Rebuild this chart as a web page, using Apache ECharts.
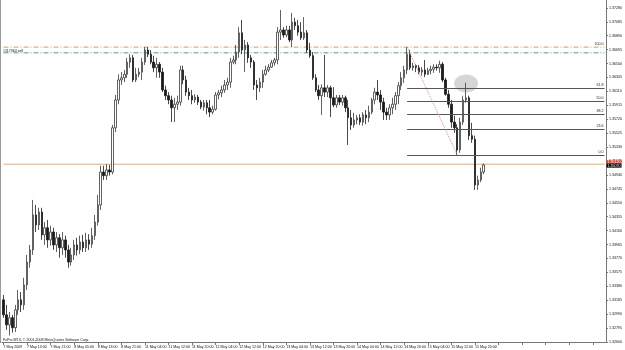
<!DOCTYPE html>
<html>
<head>
<meta charset="utf-8">
<script src="https://cdn.jsdelivr.net/npm/echarts@6/dist/echarts.min.js"></script>
<style>
  html, body { margin: 0; padding: 0; background: #fff; }
  #chart { width: 625px; height: 350px; }
</style>
</head>
<body>
<div id="chart"></div>
<script>
// EURUSD H1, 7 May - 15 May 2009
const opens = [
  1.3319,1.3298,1.3284,1.3294,1.3280,1.3305,1.3319,1.3312,1.3340,1.3372,
  1.3389,1.3438,1.3424,1.3442,1.3410,1.3420,1.3403,1.3414,1.3396,1.3406,
  1.3392,1.3403,1.3389,1.3372,1.3382,1.3396,1.3389,1.3400,1.3392,1.3403,
  1.3397,1.3409,1.3428,1.3452,1.3498,1.3493,1.3501,1.3498,1.3560,1.3599,
  1.3627,1.3630,1.3635,1.3652,1.3658,1.3627,1.3635,1.3638,1.3652,1.3669,
  1.3663,1.3652,1.3644,1.3649,1.3638,1.3613,1.3605,1.3599,1.3588,1.3593,
  1.3596,1.3641,1.3627,1.3610,1.3605,1.3599,1.3603,1.3596,1.3589,1.3595,
  1.3588,1.3582,1.3586,1.3606,1.3609,1.3613,1.3620,1.3624,1.3652,1.3655,
  1.3666,1.3693,1.3669,1.3676,1.3658,1.3652,1.3620,1.3616,1.3624,1.3635,
  1.3641,1.3645,1.3651,1.3655,1.3694,1.3697,1.3690,1.3697,1.3683,1.3708,
  1.3703,1.3694,1.3686,1.3693,1.3669,1.3661,1.3630,1.3613,1.3605,1.3616,
  1.3610,1.3616,1.3602,1.3592,1.3602,1.3596,1.3602,1.3588,1.3574,1.3564,
  1.3571,1.3574,1.3568,1.3578,1.3574,1.3582,1.3599,1.3610,1.3606,1.3596,
  1.3582,1.3578,1.3588,1.3593,1.3605,1.3619,1.3630,1.3641,1.3663,1.3644,
  1.3647,1.3644,1.3638,1.3641,1.3635,1.3640,1.3642,1.3645,1.3644,1.3649,
  1.3627,1.3607,1.3593,1.3568,1.3560,1.3529,1.3568,1.3599,1.3602,1.3549,
  1.3544,1.3480,1.3487,1.3498
]
const closes = [
  1.3298,1.3284,1.3294,1.3280,1.3305,1.3319,1.3312,1.3340,1.3372,1.3389,
  1.3438,1.3424,1.3442,1.3410,1.3420,1.3403,1.3414,1.3396,1.3406,1.3392,
  1.3403,1.3389,1.3372,1.3382,1.3396,1.3389,1.3400,1.3392,1.3403,1.3397,
  1.3409,1.3428,1.3452,1.3498,1.3493,1.3501,1.3498,1.3560,1.3599,1.3627,
  1.3630,1.3635,1.3652,1.3658,1.3627,1.3635,1.3638,1.3652,1.3669,1.3663,
  1.3652,1.3644,1.3649,1.3638,1.3613,1.3605,1.3599,1.3588,1.3593,1.3596,
  1.3641,1.3627,1.3610,1.3605,1.3599,1.3603,1.3596,1.3589,1.3595,1.3588,
  1.3582,1.3586,1.3606,1.3609,1.3613,1.3620,1.3624,1.3652,1.3655,1.3666,
  1.3693,1.3669,1.3676,1.3658,1.3652,1.3620,1.3616,1.3624,1.3635,1.3641,
  1.3645,1.3651,1.3655,1.3694,1.3697,1.3690,1.3697,1.3683,1.3708,1.3703,
  1.3694,1.3686,1.3693,1.3669,1.3661,1.3630,1.3613,1.3605,1.3616,1.3610,
  1.3616,1.3602,1.3592,1.3602,1.3596,1.3602,1.3588,1.3574,1.3564,1.3571,
  1.3574,1.3568,1.3578,1.3574,1.3582,1.3599,1.3610,1.3606,1.3596,1.3582,
  1.3578,1.3588,1.3593,1.3605,1.3619,1.3630,1.3641,1.3663,1.3644,1.3647,
  1.3644,1.3638,1.3641,1.3635,1.3640,1.3642,1.3645,1.3644,1.3649,1.3627,
  1.3607,1.3593,1.3568,1.3560,1.3529,1.3568,1.3599,1.3602,1.3549,1.3544,
  1.3480,1.3487,1.3498,1.3508
]
const highs = [
  1.3326,1.3312,1.3302,1.3298,1.3312,1.3333,1.3330,1.3350,1.3382,1.3396,
  1.3459,1.3452,1.3448,1.3448,1.3428,1.3431,1.3423,1.3420,1.3414,1.3411,
  1.3414,1.3409,1.3396,1.3392,1.3403,1.3406,1.3409,1.3410,1.3413,1.3411,
  1.3420,1.3438,1.3466,1.3507,1.3507,1.3509,1.3508,1.3564,1.3606,1.3635,
  1.3638,1.3641,1.3658,1.3663,1.3662,1.3644,1.3644,1.3658,1.3673,1.3673,
  1.3669,1.3661,1.3658,1.3652,1.3644,1.3619,1.3610,1.3605,1.3602,1.3605,
  1.3647,1.3647,1.3633,1.3616,1.3613,1.3607,1.3606,1.3599,1.3599,1.3599,
  1.3599,1.3591,1.3610,1.3613,1.3619,1.3627,1.3630,1.3658,1.3661,1.3676,
  1.3701,1.3711,1.3683,1.3680,1.3662,1.3655,1.3627,1.3630,1.3641,1.3647,
  1.3649,1.3655,1.3658,1.3701,1.3725,1.3701,1.3703,1.3703,1.3721,1.3714,
  1.3711,1.3708,1.3715,1.3697,1.3679,1.3666,1.3635,1.3620,1.3621,1.3662,
  1.3620,1.3619,1.3617,1.3606,1.3606,1.3606,1.3605,1.3599,1.3585,1.3581,
  1.3578,1.3579,1.3582,1.3585,1.3591,1.3602,1.3616,1.3627,1.3613,1.3602,
  1.3588,1.3593,1.3602,1.3610,1.3624,1.3638,1.3647,1.3673,1.3669,1.3651,
  1.3649,1.3648,1.3645,1.3655,1.3644,1.3647,1.3649,1.3649,1.3654,1.3652,
  1.3630,1.3613,1.3599,1.3577,1.3565,1.3574,1.3605,1.3623,1.3605,1.3567,
  1.3549,1.3493,1.3504,1.3510
]
const lows = [
  1.3294,1.3277,1.3269,1.3273,1.3274,1.3298,1.3302,1.3305,1.3333,1.3364,
  1.3382,1.3414,1.3417,1.3403,1.3396,1.3392,1.3395,1.3389,1.3386,1.3378,
  1.3382,1.3378,1.3364,1.3367,1.3375,1.3381,1.3383,1.3386,1.3386,1.3389,
  1.3392,1.3403,1.3423,1.3445,1.3487,1.3487,1.3493,1.3495,1.3554,1.3593,
  1.3620,1.3624,1.3630,1.3644,1.3624,1.3624,1.3631,1.3627,1.3648,1.3659,
  1.3649,1.3638,1.3630,1.3630,1.3610,1.3599,1.3593,1.3568,1.3568,1.3585,
  1.3591,1.3621,1.3605,1.3599,1.3593,1.3595,1.3592,1.3586,1.3584,1.3579,
  1.3575,1.3579,1.3584,1.3600,1.3603,1.3609,1.3613,1.3616,1.3649,1.3649,
  1.3658,1.3663,1.3638,1.3651,1.3644,1.3613,1.3599,1.3610,1.3616,1.3633,
  1.3638,1.3644,1.3647,1.3649,1.3683,1.3686,1.3687,1.3680,1.3673,1.3697,
  1.3689,1.3683,1.3683,1.3665,1.3658,1.3627,1.3610,1.3599,1.3578,1.3603,
  1.3603,1.3575,1.3589,1.3588,1.3592,1.3591,1.3582,1.3536,1.3557,1.3560,
  1.3565,1.3564,1.3563,1.3565,1.3568,1.3579,1.3593,1.3599,1.3585,1.3571,
  1.3571,1.3571,1.3579,1.3585,1.3593,1.3613,1.3623,1.3635,1.3641,1.3640,
  1.3638,1.3635,1.3633,1.3631,1.3634,1.3635,1.3637,1.3640,1.3637,1.3624,
  1.3605,1.3588,1.3560,1.3553,1.3522,1.3525,1.3564,1.3595,1.3543,1.3539,
  1.3473,1.3473,1.3484,1.3495
]

// one label every 8 bars
const xTickLabels = [
  '7 May 2009', '7 May 13:00', '7 May 21:00', '8 May 05:00', '8 May 13:00', '8 May 21:00',
  '11 May 04:00', '11 May 12:00', '11 May 20:00', '12 May 04:00', '12 May 12:00', '12 May 20:00',
  '13 May 04:00', '13 May 12:00', '13 May 20:00', '14 May 04:00', '14 May 12:00', '14 May 20:00',
  '15 May 04:00', '15 May 12:00', '15 May 20:00'
]
const yMin = 1.3260
const yMax = 1.3739
const yStep = 0.00195

// fibo retracement anchors (bar index, price)
const fibLevels = [100.0, 61.8, 50.0, 38.2, 23.6, 0.0]
const fibFrom = [137, 1.3673]
const fibTo = [154, 1.3522]

const sellPrice = 1.3673   // #117364 sell
const stopPrice = 1.3665
const bidLinePrice = 1.3509
const bidPrice = 1.35070
const askPrice = 1.35120
const markBar = 157        // grey ellipse around the retest
const markPrice = 1.3622

const barCount = 205       // chart is shifted, empty space on the right
const labelEvery = 8
const fontFam = 'Liberation Sans, Arial, sans-serif'

const categories = []
for (let i = 0; i < barCount; i++) {
  categories.push(i % labelEvery === 0 ? (xTickLabels[i / labelEvery] || '') : '')
}
const candles = opens.map((o, i) => [o, closes[i], lows[i], highs[i]])

// flat line series across the whole chart
function levelSeries(price, lineStyle) {
  return {
    type: 'line',
    data: [[0, price], [barCount - 1, price]],
    symbol: 'none',
    silent: true,
    z: 3,
    lineStyle: lineStyle
  }
}
function priceTag(price, bg) {
  return [
    {
      coord: [0, price],
      lineStyle: { color: 'rgba(0,0,0,0)', width: 0 },
      label: {
        show: true, position: 'end', distance: 2,
        formatter: price.toFixed(5), fontSize: 3.6, color: '#fff',
        backgroundColor: bg, padding: [0, 1], fontFamily: fontFam
      }
    },
    { coord: [barCount - 1, price] }
  ]
}

const fibRange = fibFrom[1] - fibTo[1]
const fibLines = fibLevels.filter(lv => lv !== 100).map(lv => {
  const p = fibTo[1] + fibRange * lv / 100
  return [
    {
      coord: [fibFrom[0], p],
      lineStyle: { color: '#555', type: 'solid', width: 1 },
      label: {
        show: true, position: 'insideEndTop', distance: 1, formatter: lv.toFixed(1),
        fontSize: 3.6, color: '#222', fontFamily: fontFam
      }
    },
    { coord: [barCount - 1, p] }
  ]
})

const chart = echarts.init(document.getElementById('chart'))

chart.setOption({
  animation: false,
  backgroundColor: '#fff',
  grid: { left: 2, right: 14, top: 0, bottom: 8 },
  xAxis: {
    type: 'category',
    data: categories,
    boundaryGap: true,
    axisLine: { lineStyle: { color: '#777', width: 1 } },
    axisTick: {
      show: true,
      alignWithLabel: true,
      interval: (i) => i % labelEvery === 0,
      length: 3,
      lineStyle: { color: '#777' }
    },
    axisLabel: {
      interval: (i) => i % labelEvery === 0,
      align: 'left',
      margin: 3,
      fontSize: 3.6,
      color: '#111',
      fontFamily: fontFam
    },
    splitLine: { show: false }
  },
  yAxis: {
    type: 'value',
    position: 'right',
    min: yMin,
    max: yMax,
    interval: yStep,
    scale: true,
    axisLine: { show: true, lineStyle: { color: '#777', width: 1 } },
    axisTick: { show: true, length: 2, lineStyle: { color: '#777' } },
    axisLabel: {
      margin: 3,
      fontSize: 3.6,
      color: '#111',
      fontFamily: fontFam,
      showMaxLabel: false,
      formatter: (v) => v.toFixed(5)
    },
    splitLine: { show: false }
  },
  series: [
    levelSeries(bidLinePrice, { color: '#d6b08a', type: 'solid', width: 1 }),
    levelSeries(stopPrice, { color: '#5f9a70', type: [5, 2, 1, 2], width: 1 }),
    levelSeries(sellPrice, { color: '#d09a66', type: [5, 2, 1, 2], width: 1 }),
    {
      type: 'candlestick',
      data: candles,
      barWidth: 2,
      z: 4,
      itemStyle: {
        color: '#ffffff',
        color0: '#1a1a1a',
        borderColor: '#3a3a3a',
        borderColor0: '#1a1a1a',
        borderWidth: 0.8
      },
      markLine: {
        silent: true,
        symbol: ['none', 'none'],
        animation: false,
        data: fibLines.concat([
          priceTag(askPrice, '#e0402a'),
          priceTag(bidPrice, '#000'),
          [
            {
              coord: [fibFrom[0], fibFrom[1]],
              lineStyle: { color: 'rgba(0,0,0,0)', width: 0 },
              label: {
                show: true, position: 'insideEndTop', distance: 1, formatter: '100.0',
                fontSize: 3.6, color: '#222', fontFamily: fontFam
              }
            },
            { coord: [barCount - 1, fibFrom[1]] }
          ],
          // fibo trend line
          [
            { coord: fibFrom, lineStyle: { color: '#e08a8a', type: 'dotted', width: 1 }, label: { show: false } },
            { coord: fibTo }
          ]
        ])
      }
    }
  ]
})

// ellipse marker, order label and copyright text, placed through the axes
const c = chart.convertToPixel({ xAxisIndex: 0, yAxisIndex: 0 }, [markBar, markPrice])
const s = chart.convertToPixel({ xAxisIndex: 0, yAxisIndex: 0 }, [0, sellPrice])
chart.setOption({
  graphic: [
    {
      type: 'ellipse',
      z: 0,
      shape: { cx: c[0], cy: c[1], rx: 12, ry: 9 },
      style: { fill: '#d6d6d6' }
    },
    {
      type: 'text',
      z: 10,
      x: 3, y: s[1] + 1.5,
      style: {
        text: '#117364 sell',
        fontSize: 3.6, fill: '#111', fontFamily: fontFam
      }
    },
    {
      type: 'rect',
      left: 0, top: 0,
      shape: { width: 1, height: 343 },
      style: { fill: '#9a9a9a' }
    },
    {
      type: 'text',
      left: 3, top: 338,
      style: {
        text: 'FxPro MT4, \u00a9 2001-2008 MetaQuotes Software Corp.',
        fontSize: 3.6, fill: '#111', fontFamily: fontFam
      }
    }
  ]
})
</script>
</body>
</html>
